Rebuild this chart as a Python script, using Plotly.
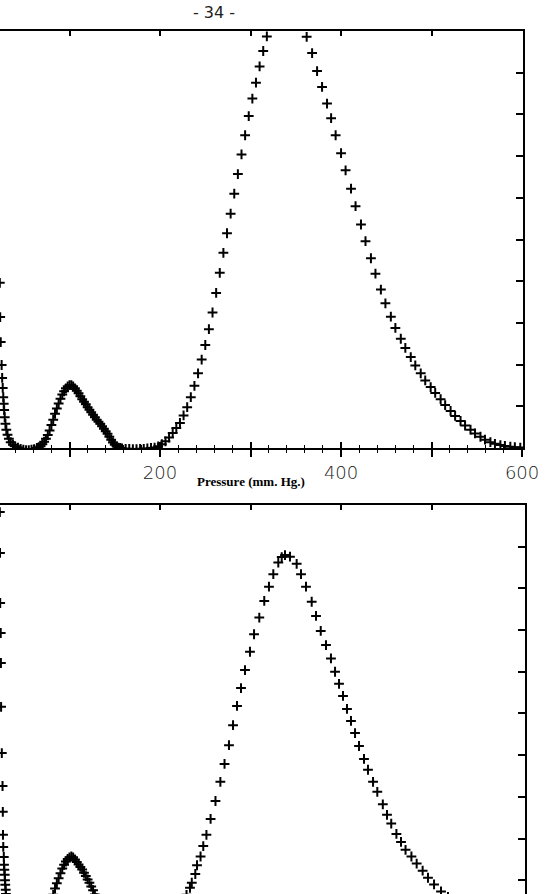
import plotly.graph_objects as go

# ---------------- data (pressure in mm Hg, response in axis units) ----------------
top_p = [23.0, 23.4, 24.0, 25.0, 25.6, 26.2, 26.8, 27.3, 27.8, 28.4, 29.2, 30.2, 31.5, 33.0, 35.0,
         37.5, 40.0, 43.0, 46.0, 49.0, 52.0, 55.0, 58.0, 61.0, 64.0, 66.0,
         68, 70, 72, 74, 76, 78, 80, 82, 84, 86, 88, 90, 92, 94, 96, 98, 100, 102, 104, 106, 108,
         110, 112, 114, 116, 118, 120, 122, 124, 126, 128, 130, 132, 134, 136, 138, 140, 142, 144,
         146, 148, 150, 152, 154, 156,
         158, 162, 166, 170, 174, 178, 182, 186, 190,
         194, 198, 202, 206, 210, 214, 218, 222, 226, 230, 234, 238, 242, 246, 250, 254, 258, 262,
         266, 270, 274, 278, 282, 286, 290, 294, 298, 302, 306, 310, 314, 318, 322, 326, 330, 334,
         338, 342, 346, 350, 354, 358, 362, 368, 373.5, 379, 384.5, 389, 394, 400, 405, 411, 416,
         422, 427, 433, 438, 444, 449, 455, 460, 466, 471, 477, 482, 488, 493, 499, 504, 510, 515,
         521, 526, 532, 537, 543, 548, 554, 559, 565, 570, 576, 581, 587, 592, 598]
top_y = [3.96, 3.14, 2.54, 1.99, 1.68, 1.44, 1.22, 1.06, 0.91, 0.74, 0.58, 0.44, 0.32, 0.22, 0.14,
         0.08, 0.04, 0.01, -0.02, -0.04, -0.05, -0.05, -0.04, -0.03, 0.0, 0.02,
         0.04, 0.09, 0.15, 0.22, 0.31, 0.42, 0.55, 0.68, 0.82, 0.95, 1.07, 1.18, 1.28, 1.36, 1.43,
         1.48, 1.51, 1.51, 1.48, 1.43, 1.37, 1.31, 1.24, 1.17, 1.11, 1.05, 0.98, 0.92, 0.86, 0.80,
         0.74, 0.68, 0.63, 0.58, 0.52, 0.46, 0.40, 0.34, 0.27, 0.20, 0.13, 0.08, 0.04, 0.01, 0.0,
         -0.01, -0.02, -0.02, -0.03, -0.03, -0.02, -0.02, -0.01, 0.0,
         0.01, 0.04, 0.09, 0.16, 0.25, 0.36, 0.48, 0.60, 0.78, 0.98, 1.22, 1.49, 1.79, 2.12, 2.47,
         2.85, 3.25, 3.72, 4.20, 4.68, 5.15, 5.62, 6.10, 6.57, 7.04, 7.50, 7.96, 8.38, 8.76, 9.15,
         9.52, 9.87, 10.2, 10.5, 10.75, 10.95, 11.05, 11.05, 10.95, 10.75, 10.5, 10.2, 9.86, 9.47,
         9.04, 8.66, 8.26, 7.91, 7.50, 7.07, 6.66, 6.22, 5.80, 5.36, 4.96, 4.55, 4.18, 3.80, 3.47,
         3.15, 2.88, 2.62, 2.40, 2.18, 1.98, 1.79, 1.62, 1.46, 1.32, 1.17, 1.03, 0.89, 0.77, 0.65,
         0.54, 0.44, 0.35, 0.27, 0.20, 0.14, 0.10, 0.07, 0.05, 0.03, 0.02, 0.01]

bot_p = [22.0, 23.0, 23.2, 23.4, 24.0, 24.2, 24.4, 25.2, 26.0, 26.3, 26.5, 26.8, 27.4, 27.6, 28.0,
         28.4, 28.7, 29.0, 29.5, 29.8, 31.0, 32.5, 34.0, 36.0, 38.5, 41.0, 44.0, 47.0, 50.0, 53.0,
         56.0, 59.0, 62.0, 65.0,
         70, 72, 74, 76, 78, 80, 82, 84, 86, 88, 90, 92, 94, 96, 98, 100, 102, 104, 106, 108, 110,
         112, 114, 116, 118, 120, 122, 124, 126, 128, 130, 132, 134, 136, 138, 140, 142, 144, 146,
         148, 150, 152, 154, 156,
         160, 165, 170, 175, 180, 185, 190, 195, 200, 205, 210, 215, 220, 225, 229.3, 233.1, 235.1,
         239.0, 240.9, 244.8, 247.8, 251.3, 255.9, 261.3, 266.7, 271.3, 276.2, 280.7, 285.1, 289.5,
         293.9, 299.4, 303.9, 309.7, 315.2, 320.4, 325.2, 330.7, 334.5, 338.1, 343.6, 351.0, 355.8,
         361.3, 367.6, 372.4, 377.6, 383.4, 388.9, 393.4, 397.8, 402.2, 406.6, 411.0, 415.5, 419.9,
         425.4, 429.8, 435.4, 440.1, 446.2, 450.8, 455.5, 461.2, 466.3, 471.3, 477.8, 483.6, 490.2,
         496.1, 502.8, 510.5, 518.2, 525, 532, 540, 548, 556, 564, 572, 580, 588, 596]
bot_y = [10.6, 9.83, 8.85, 7.65, 6.93, 6.21, 5.16, 4.05, 3.26, 2.64, 2.09, 1.80, 1.56, 1.37, 1.25,
         1.13, 1.00, 0.89, 0.77, 0.67, 0.55, 0.42, 0.32, 0.22, 0.14, 0.08, 0.03, 0.0, -0.02, -0.03,
         -0.03, -0.02, 0.0, 0.02,
         0.06, 0.10, 0.17, 0.25, 0.36, 0.50, 0.65, 0.80, 0.93, 1.05, 1.17, 1.28, 1.37, 1.45, 1.51,
         1.55, 1.57, 1.55, 1.50, 1.44, 1.38, 1.32, 1.26, 1.18, 1.10, 1.02, 0.94, 0.85, 0.76, 0.66,
         0.57, 0.49, 0.42, 0.36, 0.30, 0.25, 0.20, 0.16, 0.12, 0.09, 0.06, 0.04, 0.02, 0.01,
         0.0, 0.0, 0.0, 0.0, 0.0, 0.0, 0.0, 0.01, 0.03, 0.07, 0.13, 0.22, 0.33, 0.48, 0.65, 0.82,
         0.94, 1.15, 1.36, 1.57, 1.82, 2.09, 2.47, 2.90, 3.36, 3.79, 4.24, 4.72, 5.18, 5.61, 6.04,
         6.48, 6.90, 7.30, 7.70, 8.04, 8.34, 8.62, 8.75, 8.80, 8.76, 8.59, 8.34, 8.04, 7.68, 7.34,
         6.98, 6.64, 6.32, 6.00, 5.71, 5.42, 5.11, 4.82, 4.53, 4.22, 3.91, 3.65, 3.36, 3.12, 2.82,
         2.57, 2.36, 2.11, 1.92, 1.73, 1.57, 1.40, 1.23, 1.06, 0.90, 0.73, 0.60, 0.48, 0.37, 0.27,
         0.18, 0.11, 0.06, 0.03, 0.01, 0.0, 0.0]

major_ticks = [100, 200, 300, 400, 500, 600]
major_text = ["", "200", "", "400", "", "600"]
frame_ticks = [100, 200, 300, 400, 500]
minor_ticks = [40, 60, 80, 120, 140, 160, 180, 220, 240, 260, 280, 320, 340, 360, 380,
               420, 440, 460, 480, 520, 540, 560, 580]
y_ticks = [1, 2, 3, 4, 5, 6, 7, 8, 9]

W, H = 545, 894
marker = dict(symbol="cross-thin", size=7, color="black", line=dict(width=2, color="black"))

top_dom = [(H - 448) / H, (H - 31) / H]
bot_dom = [0, (H - 505) / H]
top_xr = [23.2, 601.0]
bot_xr = [23.2, 603.3]
plain = dict(showgrid=False, zeroline=False, automargin=False)
hidden = dict(showline=False, ticks="", showticklabels=False)
frame = dict(showline=True, linecolor="black", linewidth=2, tickcolor="black",
             tickwidth=1.5, showticklabels=False)

fig = go.Figure()
# data traces
fig.add_trace(go.Scatter(x=top_p, y=top_y, mode="markers", marker=marker,
                         xaxis="x", yaxis="y", cliponaxis=True, showlegend=False,
                         hoverinfo="skip"))
fig.add_trace(go.Scatter(x=bot_p, y=bot_y, mode="markers", marker=marker,
                         xaxis="x2", yaxis="y2", cliponaxis=True, showlegend=False,
                         hoverinfo="skip"))
# empty carrier traces so that every overlay axis gets its own subplot drawn
for xa, ya in [("x3", "y"), ("x4", "y"), ("x5", "y2"), ("x2", "y2")]:
    fig.add_trace(go.Scatter(x=[], y=[], mode="markers", xaxis=xa, yaxis=ya,
                             showlegend=False, hoverinfo="skip"))

fig.update_layout(
    width=W, height=H, margin=dict(l=0, r=0, t=0, b=0, pad=0, autoexpand=False),
    paper_bgcolor="white", plot_bgcolor="rgba(0,0,0,0)",
    # ---- top panel ----
    xaxis=dict(domain=[0, 523 / W], range=top_xr, anchor="y", showline=True,
               linecolor="black", linewidth=2, ticks="outside", ticklen=7, tickwidth=1.5,
               tickcolor="black", tickmode="array", tickvals=major_ticks, ticktext=major_text,
               tickfont=dict(family="DejaVu Sans", size=18, color="#1a1a1a", weight=200),
               minor=dict(ticks="outside", ticklen=3, tickwidth=1.2, tickcolor="black",
                          tickmode="array", tickvals=minor_ticks), **plain),
    xaxis3=dict(overlaying="x", anchor="y", side="bottom", range=top_xr, showline=False,
                ticks="inside", ticklen=6, tickwidth=1.5, tickcolor="black",
                tickmode="array", tickvals=major_ticks, showticklabels=False,
                minor=dict(ticks="inside", ticklen=3, tickwidth=1.2, tickcolor="black",
                           tickmode="array", tickvals=minor_ticks), **plain),
    xaxis4=dict(overlaying="x", anchor="y", side="top", range=top_xr, ticks="inside",
                ticklen=5, tickmode="array", tickvals=frame_ticks, **frame, **plain),
    yaxis=dict(domain=top_dom, range=[0, 10], anchor="x", side="right", ticks="inside",
               ticklen=7, tickmode="array", tickvals=y_ticks, **frame, **plain),
    # ---- bottom panel ----
    xaxis2=dict(domain=[0, 525 / W], range=bot_xr, anchor="y2", **hidden, **plain),
    xaxis5=dict(overlaying="x2", anchor="y2", side="top", range=bot_xr, ticks="inside",
                ticklen=5, tickmode="array", tickvals=frame_ticks, **frame, **plain),
    yaxis2=dict(domain=bot_dom, range=[0.67, 10], anchor="x2", side="right", ticks="inside",
                ticklen=7, tickmode="array", tickvals=y_ticks, **frame, **plain),
    annotations=[
        dict(text="- 34 -", x=214 / W, y=(H - 13) / H, xref="paper", yref="paper",
             showarrow=False, xanchor="center", yanchor="middle",
             font=dict(family="DejaVu Sans", size=16, color="#222")),
        dict(text="<b>Pressure (mm. Hg.)</b>", x=251 / W, y=(H - 482) / H, xref="paper",
             yref="paper", showarrow=False, xanchor="center", yanchor="middle",
             font=dict(family="Liberation Serif", size=13, color="black")),
    ],
)

fig.write_html("out.html")
